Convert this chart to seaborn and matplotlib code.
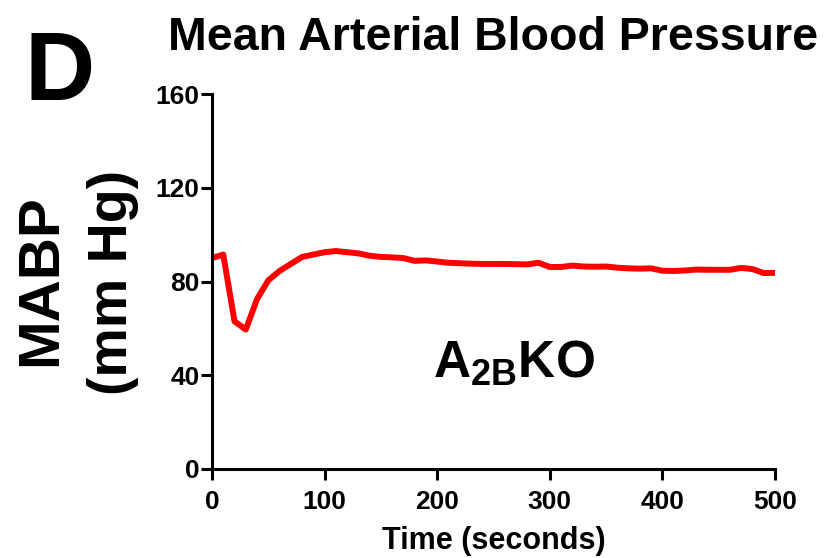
import matplotlib
matplotlib.use("Agg")
import matplotlib.pyplot as plt
import seaborn as sns
import pandas as pd

# Mean arterial blood pressure trace, sampled every 10 s
time_s = [0, 10, 20, 30, 40, 50, 60, 70, 80, 90,
          100, 110, 120, 130, 140, 150, 160, 170, 180, 190,
          200, 210, 220, 230, 240, 250, 260, 270, 280, 290,
          300, 310, 320, 330, 340, 350, 360, 370, 380, 390,
          400, 410, 420, 430, 440, 450, 460, 470, 480, 490, 500]
mabp = [90.0, 91.5, 63.0, 59.5, 72.5, 80.5, 84.5, 87.5, 90.5, 91.5,
        92.5, 93.0, 92.5, 92.0, 91.0, 90.5, 90.3, 90.0, 88.8, 89.0,
        88.5, 88.0, 87.8, 87.6, 87.5, 87.5, 87.5, 87.4, 87.3, 88.0,
        86.2, 86.2, 86.8, 86.4, 86.3, 86.4, 85.9, 85.6, 85.5, 85.6,
        84.6, 84.5, 84.7, 85.1, 85.0, 85.0, 85.0, 85.8, 85.3, 83.6, 83.7]

x_ticks = [0, 100, 200, 300, 400, 500]
y_ticks = [0, 40, 80, 120, 160]

sns.set_style("ticks")
plt.rcParams["font.family"] = ["Liberation Sans", "DejaVu Sans"]
plt.rcParams["font.weight"] = "bold"
plt.rcParams["mathtext.fontset"] = "custom"
plt.rcParams["mathtext.rm"] = "Liberation Sans:bold"
plt.rcParams["mathtext.bf"] = "Liberation Sans:bold"
for key in ("text.color", "axes.labelcolor", "xtick.color", "ytick.color",
            "axes.edgecolor"):
    plt.rcParams[key] = "black"

df = pd.DataFrame({"Time": time_s, "MABP": mabp})

fig = plt.figure(figsize=(8.34, 5.58), dpi=100)
ax = fig.add_axes([0.2542, 0.1595, 0.6751, 0.672])

sns.lineplot(data=df, x="Time", y="MABP", color="#ff0000", linewidth=4.3, ax=ax)

ax.set_xlim(0, 500)
ax.set_ylim(0, 160)
ax.set_xticks(x_ticks)
ax.set_yticks(y_ticks)
ax.set_xticklabels([str(v) for v in x_ticks], fontsize=19, fontweight="bold")
ax.set_yticklabels([str(v) for v in y_ticks], fontsize=19, fontweight="bold")
ax.tick_params(axis="both", width=2.2, length=8, color="black")
ax.tick_params(axis="x", pad=7)
ax.tick_params(axis="y", pad=1)
for side in ("left", "bottom"):
    ax.spines[side].set_linewidth(2.2)
sns.despine(ax=ax)

ax.set_xlabel("Time (seconds)", fontsize=22, fontweight="bold", labelpad=9)
ax.set_ylabel("")

# Two-line y label: "MABP" over "(mm Hg)"
fig.text(0.049, 0.498, "MABP", rotation=90, fontsize=42, fontweight="bold",
         ha="center", va="center")
fig.text(0.136, 0.494, "(mm Hg)", rotation=90, fontsize=40, fontweight="bold",
         ha="center", va="center")

ax.set_title("Mean Arterial Blood Pressure", fontsize=33.5, fontweight="bold",
             pad=32)

fig.text(0.029, 0.821, "D", fontsize=70, fontweight="bold", ha="left",
         va="baseline")

ax.text(0.537, 0.243, r"$\mathbf{A_{2B}KO}$", transform=ax.transAxes,
        fontsize=37, ha="center", va="baseline")

fig.savefig("out.png", dpi=100)
